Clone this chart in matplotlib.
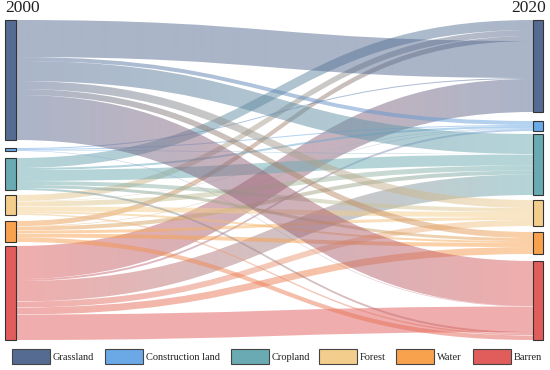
import numpy as np
import matplotlib
matplotlib.use("Agg")
import matplotlib.pyplot as plt
from matplotlib.path import Path
from matplotlib.patches import PathPatch, Rectangle
from matplotlib.colors import to_rgb

# land-use classes
labels = ["Grassland", "Construction land", "Cropland", "Forest", "Water", "Barren"]
colors = ["#566b92", "#6aa8e6", "#6aaab2", "#f3cd8b", "#f8a24e", "#e05d5b"]

# transfer 2000 -> 2020 (rows: from, cols: to)
from_grassland = [37, 4, 20, 8, 6, 45]
from_construction = [1, 1, 0.5, 0, 0, 0.5]
from_cropland = [10, 2, 11, 4, 3, 2]
from_forest = [6, 0.5, 5, 5, 2, 1.5]
from_water = [5, 0.5, 4, 3, 4, 4.5]
from_barren = [33, 2, 20.5, 6, 7, 25.5]

flows = np.array([from_grassland, from_construction, from_cropland,
                  from_forest, from_water, from_barren])

W, H = 550, 370
fig = plt.figure(figsize=(5.5, 3.7), dpi=100)
ax = fig.add_axes([0, 0, 1, 1])
ax.axis("off")

top = 20
gaps_left = [8, 7, 5, 6, 4]
gaps_right = [9, 3, 5, 6, 7]
xl0, xl1 = 5, 16
xr0, xr1 = 533, 543
# stacking order of incoming links at the 2020 nodes (default: by source)
in_order = {0: [2, 3, 4, 0, 1, 5], 5: [0, 1, 5, 2, 3, 4]}


def node_tops(totals, gaps):
    ys = [top]
    for t, g in zip(totals[:-1], gaps):
        ys.append(ys[-1] + t + g)
    return ys


out_tot = flows.sum(axis=1)
in_tot = flows.sum(axis=0)
ly = node_tops(out_tot, gaps_left)
ry = node_tops(in_tot, gaps_right)

# where each link leaves its source (ordered by target)
src_y = {}
off = list(ly)
for i in range(6):
    for j in range(6):
        if flows[i, j] > 0:
            src_y[i, j] = off[i]
            off[i] += flows[i, j]

# where each link reaches its target
links = []
off = list(ry)
for j in range(6):
    for i in in_order.get(j, range(6)):
        if flows[i, j] > 0:
            links.append((i, j, src_y[i, j], off[j], flows[i, j]))
            off[j] += flows[i, j]

xm = (xl1 + xr0) / 2
alpha = 0.5
t = np.linspace(0, 1, 256)[:, None]
for i, j, y0, y1, v in links:
    verts = [(xl1, y0), (xm, y0), (xm, y1), (xr0, y1),
             (xr0, y1 + v), (xm, y1 + v), (xm, y0 + v), (xl1, y0 + v),
             (xl1, y0)]
    codes = [Path.MOVETO, Path.CURVE4, Path.CURVE4, Path.CURVE4,
             Path.LINETO, Path.CURVE4, Path.CURVE4, Path.CURVE4,
             Path.CLOSEPOLY]
    patch = PathPatch(Path(verts, codes), facecolor="none", edgecolor="none")
    ax.add_patch(patch)
    c0 = np.array(to_rgb(colors[i]))
    c1 = np.array(to_rgb(colors[j]))
    grad = np.ones((1, 256, 4))
    grad[0, :, :3] = c0 * (1 - t) + c1 * t
    grad[0, :, 3] = alpha
    ymin, ymax = min(y0, y1), max(y0, y1) + v
    im = ax.imshow(grad, extent=(xl1, xr0, ymax, ymin), aspect="auto",
                   interpolation="bilinear", zorder=1)
    im.set_clip_path(patch)

for k in range(6):
    ax.add_patch(Rectangle((xl0, ly[k]), xl1 - xl0, out_tot[k],
                           facecolor=colors[k], edgecolor="#333333", lw=0.8, zorder=3))
    ax.add_patch(Rectangle((xr0, ry[k]), xr1 - xr0, in_tot[k],
                           facecolor=colors[k], edgecolor="#333333", lw=0.8, zorder=3))

serif = "Liberation Serif"
ax.text(5, 16, "2000", fontsize=12.5, family=serif, ha="left", va="bottom", color="#222222")
ax.text(546, 16, "2020", fontsize=12.5, family=serif, ha="right", va="bottom", color="#222222")

# legend
leg_x = [12, 105, 231, 319, 396, 473]
for k in range(6):
    ax.add_patch(Rectangle((leg_x[k], 349), 38, 15, facecolor=colors[k],
                           edgecolor="#444444", lw=0.8))
    ax.text(leg_x[k] + 41, 357, labels[k], fontsize=7.5, family=serif,
            ha="left", va="center", color="#222222")

ax.set_xlim(0, W)
ax.set_ylim(H, 0)
fig.savefig("out.png", dpi=100)
